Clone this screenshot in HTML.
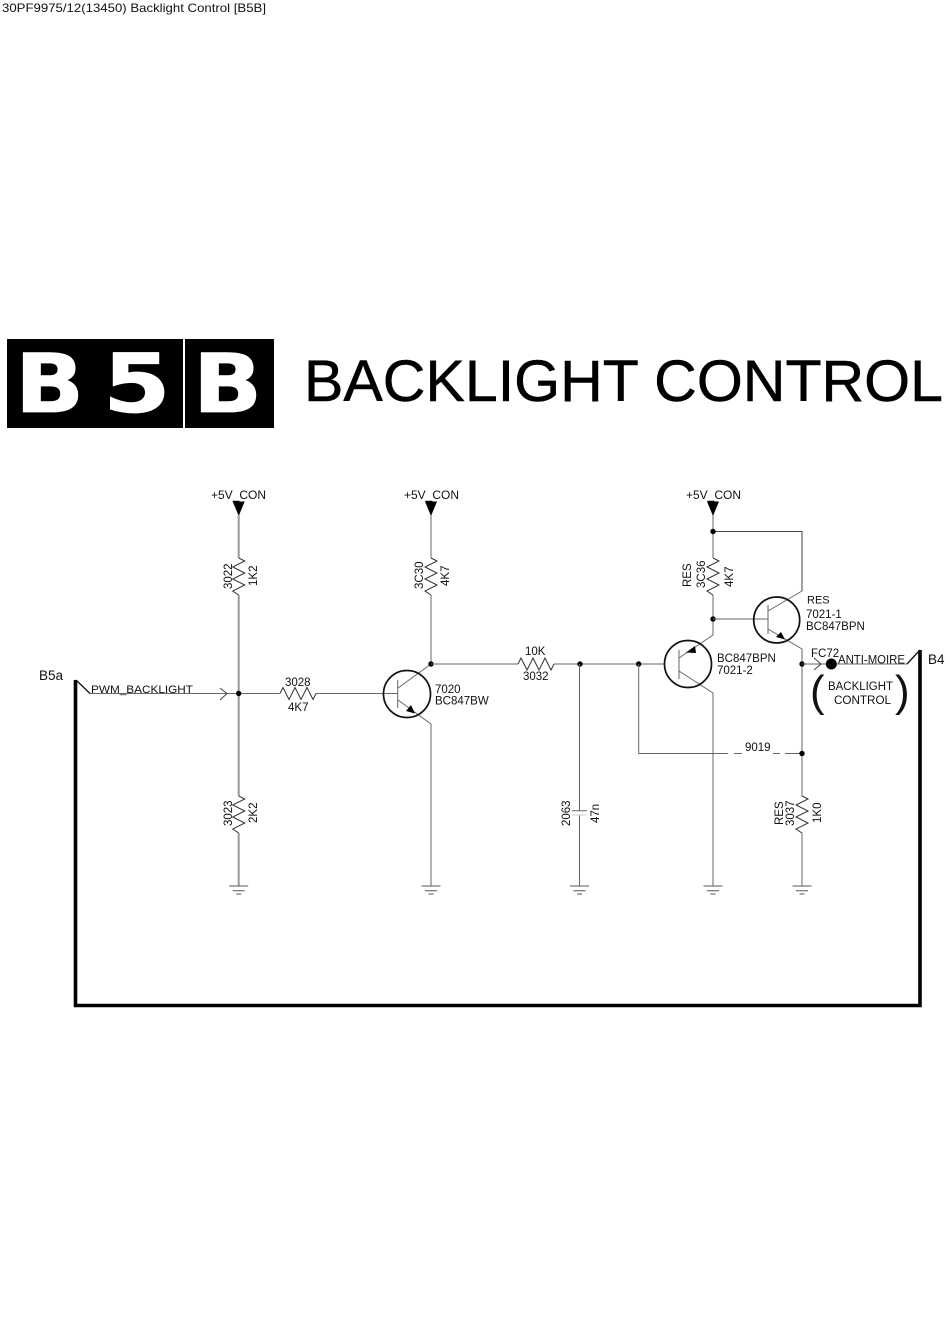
<!DOCTYPE html>
<html>
<head>
<meta charset="utf-8">
<title>Backlight Control [B5B]</title>
<style>
html,body{margin:0;padding:0;background:#fff;width:950px;height:1343px;overflow:hidden}
svg{display:block}
text{font-family:"Liberation Sans",sans-serif;fill:#111;font-size:11.5px}
.w{fill:none;stroke:#666;stroke-width:1}
.t{fill:none;stroke:#999;stroke-width:2}
.z{fill:none;stroke:#333;stroke-width:1}
.c{fill:none;stroke:#111;stroke-width:1.7}
.k{fill:none;stroke:#000;stroke-width:3.6;stroke-linejoin:miter}
.d{fill:#000;stroke:none}
.bl{font-family:"DejaVu Sans","Liberation Sans",sans-serif;font-size:81px;font-weight:bold;fill:#fff;stroke:#fff;stroke-width:.8}
#s{filter:blur(.3px)}
</style>
</head>
<body>
<svg id="s" width="950" height="1343" viewBox="0 0 950 1343" xmlns="http://www.w3.org/2000/svg">
<defs>
<polyline id="rv" class="z" points="0,0 6,3 -6,9 6,15 -6,21 6,27 -6,33 0,37"/>
<polyline id="rh" class="z" points="0,0 3,-6 9,6 15,-6 21,6 27,-6 33,6 36,0"/>
<polygon id="pw" class="d" points="-6,0 6,0 0,14.5"/>
<g id="gn"><path d="M-9.5,0H9.5M-6,4.7H6M-2.5,8H2.5" fill="none" stroke="#555" stroke-width="1"/></g>
</defs>

<text x="2" y="12" style="font-size:12px" textLength="264" lengthAdjust="spacingAndGlyphs">30PF9975/12(13450) Backlight Control [B5B]</text>

<!-- Title block -->
<rect x="7" y="339" width="176" height="89" fill="#000"/>
<rect x="185" y="339" width="89" height="89" fill="#000"/>
<text class="bl" transform="translate(15,412) scale(1.12,1)">B</text>
<text class="bl" transform="translate(103,412) scale(1.2,1)">5</text>
<text class="bl" transform="translate(193,412) scale(1.12,1)">B</text>
<text x="304" y="401" style="font-size:58px;fill:#000;stroke:#000;stroke-width:.5" textLength="639" lengthAdjust="spacingAndGlyphs">BACKLIGHT CONTROL</text>

<!-- Thick loop -->
<path class="k" d="M75.5,680V1005.5H920V650"/>
<path d="M76,680L90,693.5" fill="none" stroke="#111" stroke-width="1.3"/>
<path d="M920,650L907,664" fill="none" stroke="#111" stroke-width="1.3"/>

<text x="39" y="680" style="font-size:13.5px">B5a</text>
<text x="928" y="664" style="font-size:13.5px">B4</text>
<text x="91" y="693" style="font-size:11.2px" textLength="102" lengthAdjust="spacingAndGlyphs">PWM_BACKLIGHT</text>

<!-- Column 1 -->
<text x="211" y="499" textLength="55" lengthAdjust="spacingAndGlyphs">+5V_CON</text>
<use href="#pw" x="238.7" y="501.5"/>
<path class="t" d="M238.7,515V558M238.7,595V796M238.7,833V886"/>
<use href="#rv" x="238.7" y="558"/>
<use href="#rv" x="238.7" y="796"/>
<use href="#gn" x="238.7" y="886"/>
<text transform="translate(232,589) rotate(-90)">3022</text>
<text transform="translate(257,586) rotate(-90)">1K2</text>
<text transform="translate(232,826) rotate(-90)">3023</text>
<text transform="translate(257,823) rotate(-90)">2K2</text>
<path class="w" d="M90,693.5H280M316,693.5H384"/>
<path d="M220,688L227,693.5L220,700" fill="none" stroke="#444" stroke-width="1"/>
<circle class="d" cx="238.7" cy="693.5" r="2.7"/>
<use href="#rh" x="280" y="693.5"/>
<text x="285" y="686">3028</text>
<text x="288" y="711">4K7</text>

<!-- Transistor 7020 -->
<text x="404" y="499" textLength="55" lengthAdjust="spacingAndGlyphs">+5V_CON</text>
<use href="#pw" x="431" y="501.5"/>
<path class="w" d="M431,515V558M431,595V664L398,688M398,700L431,724V886"/>
<use href="#rv" x="431" y="558"/>
<use href="#gn" x="431" y="886"/>
<text transform="translate(423,589) rotate(-90)">3C30</text>
<text transform="translate(449,586) rotate(-90)">4K7</text>
<circle class="c" cx="407" cy="694" r="23.5"/>
<path class="w" d="M384,693.5H398M397.7,680V708"/>
<polygon class="d" points="415,713.5 406,711 411,705"/>
<text x="435" y="693">7020</text>
<text x="435" y="704.5">BC847BW</text>
<circle class="d" cx="431" cy="664" r="2.7"/>

<!-- 10K and cap -->
<path class="w" d="M431,664H518M554,664H665"/>
<use href="#rh" x="518" y="664"/>
<text x="525" y="655">10K</text>
<text x="523" y="680">3032</text>
<circle class="d" cx="580" cy="664" r="2.7"/>
<path class="w" d="M579.5,664V810.7M579.5,815V886M572,810.7H587"/>
<path d="M572,815H587" fill="none" stroke="#ccc" stroke-width="1"/>
<use href="#gn" x="579.5" y="886"/>
<text transform="translate(570,826) rotate(-90)">2063</text>
<text transform="translate(599,823) rotate(-90)">47n</text>

<!-- Right section -->
<text x="686" y="499" textLength="55" lengthAdjust="spacingAndGlyphs">+5V_CON</text>
<use href="#pw" x="713" y="501.5"/>
<path class="w" d="M713,515V558M713,595V635L679,658M679,671L713,693V886"/>
<path d="M713,531.5H802V591" fill="none" stroke="#444" stroke-width="1"/>
<circle class="d" cx="713" cy="531.5" r="2.7"/>
<use href="#rv" x="713" y="558"/>
<use href="#gn" x="713" y="886"/>
<text transform="translate(691,587) rotate(-90)">RES</text>
<text transform="translate(705,588) rotate(-90)">3C36</text>
<text transform="translate(733,587) rotate(-90)">4K7</text>
<circle class="d" cx="713" cy="619" r="2.7"/>

<!-- Q1 -->
<path class="w" d="M713,619H768M768,605V634M802,591L768,611M768,629L802,649V796M802,833V886"/>
<circle class="c" cx="776.7" cy="620" r="23"/>
<polygon class="d" points="785,639.5 776,637 781,632"/>
<text x="807" y="603.5" style="font-size:11px">RES</text>
<text x="806" y="618">7021-1</text>
<text x="806" y="630">BC847BPN</text>

<!-- Q2 -->
<circle class="c" cx="688" cy="664" r="23.5"/>
<path class="w" d="M679,650V679"/>
<polygon class="d" points="686,652.5 695,646 696,653"/>
<text x="717" y="662">BC847BPN</text>
<text x="717" y="674">7021-2</text>
<circle class="d" cx="638.7" cy="664" r="2.7"/>

<!-- 9019 -->
<path class="w" d="M638.7,664V753.5H728M734,753.5H742M773,753.5H780M785,753.5H802"/>
<text x="745" y="751">9019</text>
<circle class="d" cx="802" cy="753.5" r="2.7"/>
<circle class="d" cx="802" cy="664" r="2.7"/>

<use href="#rv" x="802" y="796"/>
<use href="#gn" x="802" y="886"/>
<text transform="translate(783,825) rotate(-90)">RES</text>
<text transform="translate(794,826) rotate(-90)">3037</text>
<text transform="translate(821,823) rotate(-90)">1K0</text>

<!-- Output -->
<path class="w" d="M802,664H907"/>
<path d="M814,658L821,664L814,670" fill="none" stroke="#444" stroke-width="1"/>
<circle class="d" cx="831.3" cy="664" r="5.5"/>
<text x="811" y="657">FC72</text>
<text x="838" y="663.5" textLength="67" lengthAdjust="spacingAndGlyphs">ANTI-MOIRE</text>
<text x="828" y="690" textLength="65" lengthAdjust="spacingAndGlyphs">BACKLIGHT</text>
<text x="834" y="704" textLength="57" lengthAdjust="spacingAndGlyphs">CONTROL</text>
<text x="810" y="706" style="font-size:44px">(</text>
<text x="895" y="706" style="font-size:44px">)</text>
</svg>
</body>
</html>
